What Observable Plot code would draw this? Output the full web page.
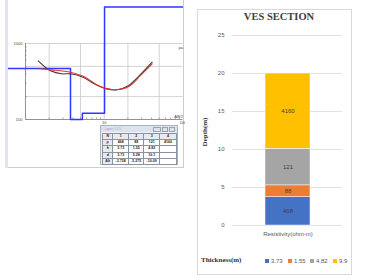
<!DOCTYPE html>
<html><head><meta charset="utf-8">
<script src="https://cdn.jsdelivr.net/npm/d3@7"></script>
<script src="https://cdn.jsdelivr.net/npm/@observablehq/plot@0.6"></script>
<style>
html,body{margin:0;padding:0;background:#fff;}
#root{position:relative;width:370px;height:280px;overflow:hidden;background:#fff;font-family:"Liberation Sans",Arial,sans-serif;}
.abs{position:absolute;}
#win{left:5px;top:0;width:177px;height:167px;border:1px solid #c9ced6;border-top:none;background:#fff;}
#winstrip{left:5px;top:0;width:3px;height:168px;background:#dfe5ee;}
#tbl{left:100px;top:125px;width:76px;height:38px;border:1px solid #a9b3c2;background:#eef1f6;}
#tbar{left:0;top:0;width:76px;height:6px;background:#dde3ec;font-size:3px;color:#9aa3b0;line-height:6px;}
#tbl table{position:absolute;left:1px;top:7px;border-collapse:collapse;font-size:3.6px;font-weight:bold;color:#222;}
#tbl td{border:0.5px solid #8a93a0;background:#fff;height:5.2px;padding:0;text-align:center;line-height:5px;}
#tbl td.h{background:#e6eaf0;}
#chartbox{left:197px;top:9px;width:153px;height:264px;border:1px solid #d9d9d9;background:#fff;}
#title{left:197px;top:11px;width:164px;text-align:center;font-family:"Liberation Serif","Times New Roman",serif;font-weight:bold;font-size:10.5px;color:#404040;}
#ylab{left:205px;top:132px;transform:translate(-50%,-50%) rotate(-90deg);font-family:"Liberation Serif",serif;font-weight:bold;font-size:7px;color:#333;white-space:nowrap;}
#legtitle{left:201px;top:256px;font-family:"Liberation Serif",serif;font-weight:bold;font-size:7px;color:#333;}
.leg{position:absolute;top:258px;font-size:6px;color:#595959;white-space:nowrap;line-height:6px;}
.leg i{display:inline-block;width:4px;height:4px;margin-right:2px;vertical-align:0px;}
</style></head>
<body><div id="root">
<div id="win" class="abs"></div>
<div id="winstrip" class="abs"></div>
<div id="leftplot" class="abs" style="left:0;top:0;"></div>
<div id="tbl" class="abs"><div id="tbar" class="abs">&nbsp;&#9633; Layers 1.0.5<span style="position:absolute;right:2px;top:1px;">
<span style="display:inline-block;width:6px;height:3px;border:0.5px solid #9aa3b0;margin-left:1px"></span><span style="display:inline-block;width:4px;height:3px;border:0.5px solid #9aa3b0;margin-left:1px"></span><span style="display:inline-block;width:4px;height:3px;border:0.5px solid #9aa3b0;margin-left:1px"></span></span></div></div>
<div id="chartbox" class="abs"></div>
<div id="title" class="abs">VES SECTION</div>
<div id="rightplot" class="abs" style="left:197px;top:9px;"></div>
<div id="ylab" class="abs">Depth(m)</div>
<div id="legtitle" class="abs">Thickness(m)</div>
<div id="legend"></div>
</div>
<script>
// ---- data ----
const layerNo = ["1", "2", "3", "4"];
const resistivity = [468, 88, 121, 4160];
const thickness = [3.73, 1.55, 4.82, 9.9];
const depthBottom = [3.73, 5.28, 10.1];
const altitude = [-3.728, -5.275, -10.09];
const layerColors = ["#4472C4", "#ED7D31", "#A5A5A5", "#FFC000"];
const depthTicks = [0, 5, 10, 15, 20, 25];
const category = "Resistivity(ohm-m)";
// sounding curves (AB/2 in m, apparent resistivity in ohm-m)
const fieldAB2 = [1.45, 1.89, 2.08, 2.87, 3.73, 5.41, 7.04, 10.7, 14.6, 20.5, 26.3, 40.7];
const fieldRho = [592, 465, 437, 399, 399, 360, 304, 253, 246, 280, 354, 567];
const calcAB2 = [1.48, 2.08, 3.73, 5.5, 8.95, 13.9, 20.5, 28.9, 40.7];
const calcRho = [465, 450, 419, 368, 271, 246, 271, 380, 541];
const gridAB2 = [2, 5, 10, 20, 50];
const gridRho = [200, 500, 1000];
const minorAB2 = [2, 3, 4, 5, 6, 7, 8, 9, 20, 30, 40, 50, 60, 70, 80, 90];
const minorRho = [200, 300, 400, 500, 600, 700, 800, 900];

// ---- left: sounding curve ----
const field = fieldAB2.map((x, i) => ({x, y: fieldRho[i]}));
const calc = calcAB2.map((x, i) => ({x, y: calcRho[i]}));
const model = [];
let prev = 0.5;
resistivity.forEach((r, i) => {
  const next = i < depthBottom.length ? depthBottom[i] : 300;
  model.push({x: prev, y: r}, {x: next, y: r});
  prev = next;
});
// the plotting window shows 100..~3000 ohm-m; larger values sit on its top edge
const yTop = Math.pow(10, 2 + (119 - 6.5) / 76);
const left = Plot.plot({
  width: 185, height: 140, marginLeft: 8, marginRight: 2, marginTop: 4, marginBottom: 0,
  style: {background: "transparent", fontFamily: "Liberation Sans, sans-serif", fontSize: "4px"},
  x: {type: "log", domain: [1, 100], range: [25, 182.4], axis: null},
  y: {type: "log", domain: [100, yTop], range: [119, 6.5], clamp: true, axis: null},
  marks: [
    Plot.ruleX(gridAB2, {y1: 100, y2: 1000, stroke: "#c8c8c8", strokeWidth: 0.8}),
    Plot.ruleY(gridRho, {x1: 1, x2: 100, stroke: "#c8c8c8", strokeWidth: 0.8}),
    Plot.ruleY(minorRho, {x1: 1, x2: 1.05, stroke: "#777", strokeWidth: 0.6}),
    Plot.ruleX(minorAB2, {y1: 100, y2: 105, stroke: "#777", strokeWidth: 0.6}),
    Plot.ruleX([1], {y1: 100, y2: 1000, stroke: "#777", strokeWidth: 0.8}),
    Plot.ruleY([100], {x1: 1, x2: 100, stroke: "#777", strokeWidth: 0.8}),
    Plot.line(model, {x: "x", y: "y", stroke: "#2f36ff", strokeWidth: 1.5, clip: true}),
    Plot.line(field, {x: "x", y: "y", stroke: "#3a3a3a", strokeWidth: 1.1, curve: "catmull-rom"}),
    Plot.line(calc, {x: "x", y: "y", stroke: "#e8332e", strokeWidth: 1.1, curve: "catmull-rom"}),
    Plot.text([1000, 100], {x: 1, y: d => d, text: d => String(d), textAnchor: "end", dx: -3, fill: "#444"}),
    Plot.text([10, 100], {x: d => d, y: 100, text: d => String(d), dy: 3, fill: "#444"}),
    Plot.text(["AB/2"], {x: 100, y: 100, text: d => d, textAnchor: "end", dy: -3, fill: "#444"}),
    Plot.text(["ρa"], {x: 100, y: 1000, text: d => d, textAnchor: "end", dy: 4, fill: "#444"})
  ]
});
document.getElementById("leftplot").appendChild(left);

// table
const rows = [
  ["N", ...layerNo],
  ["ρ", ...resistivity.map(String)],
  ["h", ...thickness.slice(0, 3).map(String), ""],
  ["d", ...depthBottom.map(String), ""],
  ["Alt", ...altitude.map(String), ""]
];
const widths = [10, 15, 15, 15, 17];
const t = document.createElement("table");
rows.forEach((r, ri) => {
  const tr = document.createElement("tr");
  r.forEach((c, ci) => {
    const td = document.createElement("td");
    td.textContent = c;
    td.style.width = widths[ci] + "px";
    if (ci === 0) td.className = "h";
    if (ri === 0) td.className = "h";
    tr.appendChild(td);
  });
  t.appendChild(tr);
});
document.getElementById("tbl").appendChild(t);

// ---- right: VES section ----
const layers = resistivity.map((r, i) => ({cat: category, thick: thickness[i], res: String(r), key: String(thickness[i])}));
const right = Plot.plot({
  width: 154, height: 264, marginLeft: 35, marginRight: 9, marginTop: 26, marginBottom: 48,
  style: {background: "transparent", fontFamily: "Liberation Sans, Arial, sans-serif", fontSize: "6px", color: "#595959"},
  x: {domain: [category], padding: 0.42, label: null, tickSize: 0, tickPadding: 6},
  y: {domain: [0, 25], ticks: depthTicks, label: null, tickSize: 0, tickPadding: 8},
  color: {domain: layers.map(d => d.key), range: layerColors},
  marks: [
    Plot.ruleY(depthTicks, {stroke: "#d9d9d9", strokeWidth: 0.8}),
    Plot.barY(layers, {x: "cat", y: "thick", fill: "key", stroke: "#fff", strokeWidth: 0.5}),
    Plot.text(layers, Plot.stackY({x: "cat", y: "thick", text: "res", fill: "#404040", fontSize: 6}))
  ]
});
document.getElementById("rightplot").appendChild(right);

// legend
const legPos = [265, 288, 310, 333];
const legend = document.getElementById("legend");
thickness.forEach((v, i) => {
  const s = document.createElement("div");
  s.className = "leg";
  s.style.left = legPos[i] + "px";
  s.innerHTML = `<i style="background:${layerColors[i]}"></i>${v}`;
  legend.appendChild(s);
});
</script>
</body></html>
